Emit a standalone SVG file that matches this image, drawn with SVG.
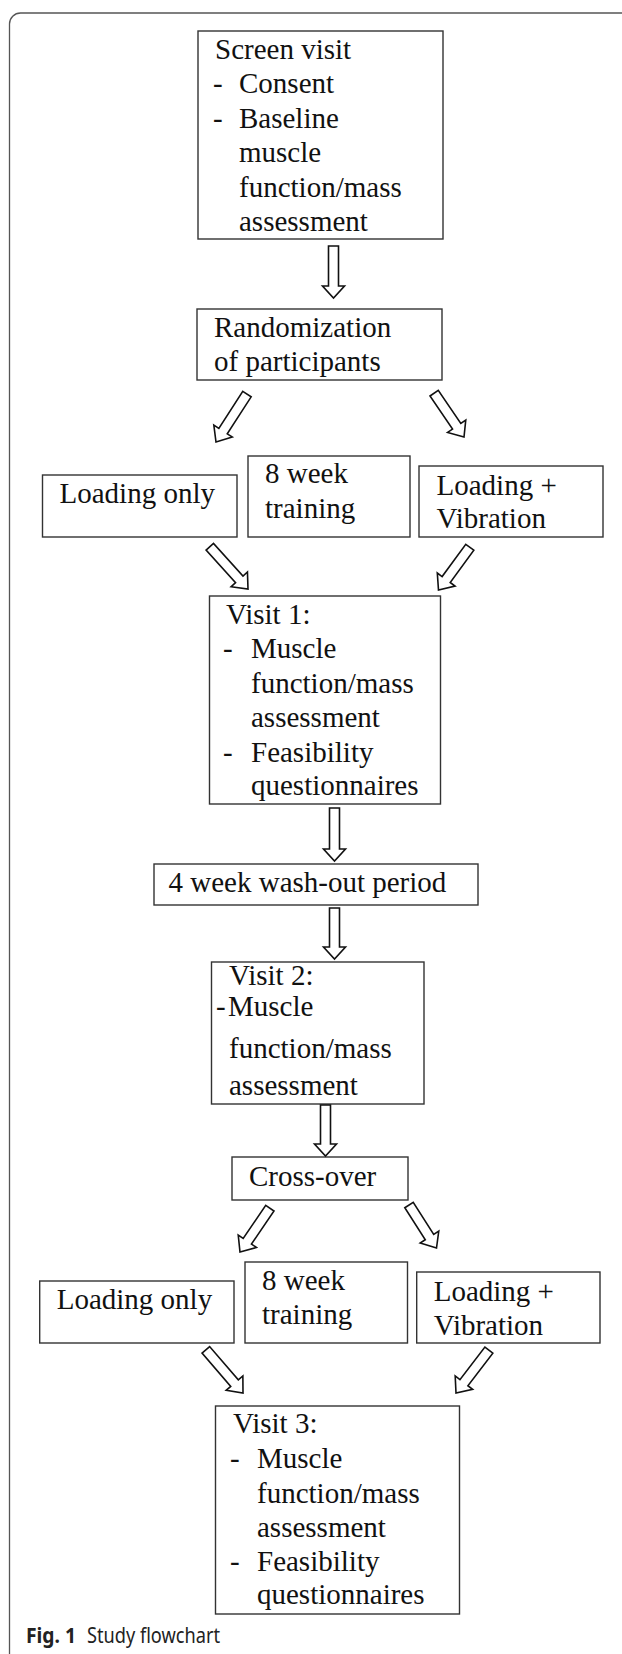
<svg xmlns="http://www.w3.org/2000/svg" width="622" height="1654" viewBox="0 0 622 1654">
<style>
.box{fill:#fff;stroke:#333;stroke-width:1.4}
.t{font-family:"Liberation Serif","Times New Roman",serif;font-size:29px;fill:#111}
.arr{fill:#fff;stroke:#111;stroke-width:1.6;stroke-linejoin:miter}
.cap{font-family:"Noto Sans","Open Sans",sans-serif;font-size:21px;fill:#222}
</style>
<rect width="622" height="1654" fill="#fff"/>
<path d="M9.5,1654 V24 A11,11 0 0 1 20.5,13 H622" fill="none" stroke="#555" stroke-width="1.3"/>

<g id="screen">
<rect class="box" x="198" y="31" width="245" height="208"/>
<text class="t" x="215" y="59">Screen visit</text>
<text class="t" x="213" y="93">-</text><text class="t" x="239" y="93">Consent</text>
<text class="t" x="213" y="128">-</text><text class="t" x="239" y="128">Baseline</text>
<text class="t" x="239" y="162">muscle</text>
<text class="t" x="239" y="197">function/mass</text>
<text class="t" x="239" y="231">assessment</text>
</g>

<g id="random">
<rect class="box" x="197" y="309" width="245" height="71"/>
<text class="t" x="214" y="337">Randomization</text>
<text class="t" x="214" y="371">of participants</text>
</g>

<g id="loading1">
<rect class="box" x="42.5" y="475" width="194.5" height="62"/>
<text class="t" x="59.5" y="503">Loading only</text>
</g>

<g id="training1">
<rect class="box" x="248" y="456" width="162" height="81"/>
<text class="t" x="265" y="483">8 week</text>
<text class="t" x="265" y="518">training</text>
</g>

<g id="vibration1">
<rect class="box" x="419" y="466" width="184" height="71"/>
<text class="t" x="436.5" y="495">Loading +</text>
<text class="t" x="436.5" y="528">Vibration</text>
</g>

<g id="visit1">
<rect class="box" x="209.5" y="596" width="231" height="208"/>
<text class="t" x="226" y="624">Visit 1:</text>
<text class="t" x="223" y="658">-</text><text class="t" x="251" y="658">Muscle</text>
<text class="t" x="251" y="693">function/mass</text>
<text class="t" x="251" y="727">assessment</text>
<text class="t" x="223" y="762">-</text><text class="t" x="251" y="762">Feasibility</text>
<text class="t" x="251" y="795">questionnaires</text>
</g>

<g id="washout">
<rect class="box" x="154" y="864" width="324" height="41"/>
<text class="t" x="168.5" y="892">4 week wash-out period</text>
</g>

<g id="visit2">
<rect class="box" x="211.5" y="962" width="212.5" height="142"/>
<text class="t" x="229" y="985">Visit 2:</text>
<text class="t" x="216" y="1016">-</text><text class="t" x="228" y="1016">Muscle</text>
<text class="t" x="229" y="1058">function/mass</text>
<text class="t" x="229" y="1095">assessment</text>
</g>

<g id="crossover">
<rect class="box" x="232" y="1157" width="176" height="43"/>
<text class="t" x="249" y="1186">Cross-over</text>
</g>

<g id="loading2">
<rect class="box" x="39.7" y="1281" width="194.3" height="62"/>
<text class="t" x="56.7" y="1309">Loading only</text>
</g>

<g id="training2">
<rect class="box" x="245" y="1262" width="162.5" height="81"/>
<text class="t" x="262" y="1290">8 week</text>
<text class="t" x="262" y="1324">training</text>
</g>

<g id="vibration2">
<rect class="box" x="416.7" y="1272" width="183.3" height="71"/>
<text class="t" x="433.7" y="1301">Loading +</text>
<text class="t" x="433.7" y="1335">Vibration</text>
</g>

<g id="visit3">
<rect class="box" x="215.5" y="1406" width="244" height="208"/>
<text class="t" x="233" y="1433">Visit 3:</text>
<text class="t" x="230" y="1468">-</text><text class="t" x="257" y="1468">Muscle</text>
<text class="t" x="257" y="1503">function/mass</text>
<text class="t" x="257" y="1537">assessment</text>
<text class="t" x="230" y="1571">-</text><text class="t" x="257" y="1571">Feasibility</text>
<text class="t" x="257" y="1604">questionnaires</text>
</g>

<g id="connectors">
<path class="arr" transform="translate(333.5,298)" d="M-5,-52 H5 V-12 H11 L0,0 L-11,-12 H-5 Z"/>
<path class="arr" transform="translate(216,442) rotate(32.9)" d="M-5,-57 H5 V-13 H11 L0,0 L-11,-13 H-5 Z"/>
<path class="arr" transform="translate(464,437) rotate(-34.3)" d="M-5,-53 H5 V-13 H11 L0,0 L-11,-13 H-5 Z"/>
<path class="arr" transform="translate(248,589) rotate(-42.1)" d="M-5,-57 H5 V-13 H11 L0,0 L-11,-13 H-5 Z"/>
<path class="arr" transform="translate(438.5,590) rotate(36.2)" d="M-5,-53 H5 V-13 H11 L0,0 L-11,-13 H-5 Z"/>
<path class="arr" transform="translate(334.5,861)" d="M-5,-53 H5 V-12 H11 L0,0 L-11,-12 H-5 Z"/>
<path class="arr" transform="translate(334.5,959)" d="M-5,-51 H5 V-12 H11 L0,0 L-11,-12 H-5 Z"/>
<path class="arr" transform="translate(325.5,1156)" d="M-5,-51 H5 V-12 H11 L0,0 L-11,-12 H-5 Z"/>
<path class="arr" transform="translate(240,1252) rotate(34.3)" d="M-5,-53 H5 V-13 H11 L0,0 L-11,-13 H-5 Z"/>
<path class="arr" transform="translate(436.5,1248) rotate(-32.6)" d="M-5,-51 H5 V-13 H11 L0,0 L-11,-13 H-5 Z"/>
<path class="arr" transform="translate(243,1393) rotate(-40.7)" d="M-5,-57 H5 V-13 H11 L0,0 L-11,-13 H-5 Z"/>
<path class="arr" transform="translate(456,1393) rotate(37.5)" d="M-5,-54 H5 V-13 H11 L0,0 L-11,-13 H-5 Z"/>
</g>

<g id="caption">
<text class="cap" x="26" y="1643" font-weight="bold" textLength="50" lengthAdjust="spacingAndGlyphs">Fig. 1</text>
<text class="cap" x="87" y="1643" textLength="133" lengthAdjust="spacingAndGlyphs">Study flowchart</text>
</g>
</svg>
